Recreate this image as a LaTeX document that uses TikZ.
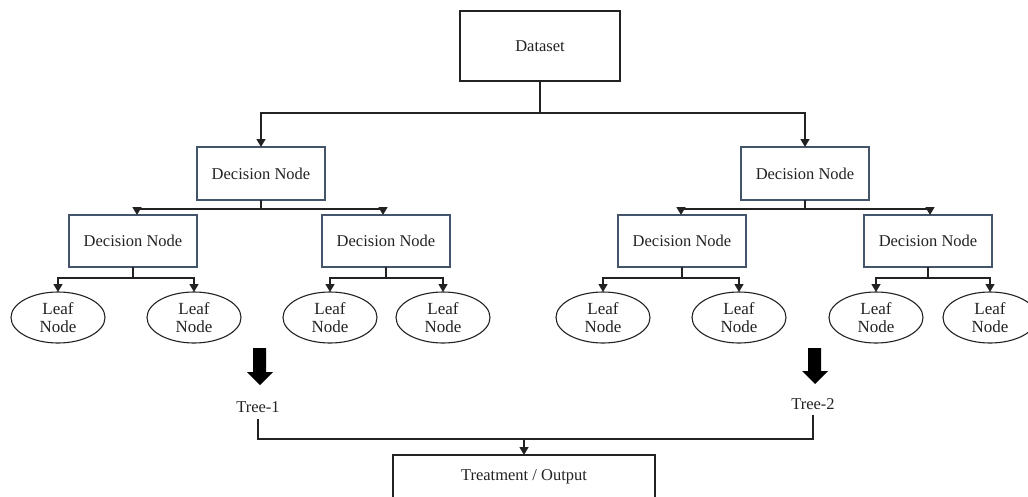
\documentclass[tikz,border=0pt]{standalone}
\usepackage{fontspec}
\setmainfont{Liberation Serif}
\usetikzlibrary{arrows.meta,shapes.geometric}
\definecolor{slate}{HTML}{44546A}
\definecolor{ink}{HTML}{222222}
\begin{document}
\begin{tikzpicture}[x=1pt,y=-1pt,
  font=\fontsize{16.5}{18}\selectfont,
  every node/.style={inner sep=0pt, outer sep=0pt, text=ink},
  plainbox/.style={draw=ink, line width=1.2pt, rectangle},
  decbox/.style={draw=slate, line width=1.2pt, rectangle, minimum width=128, minimum height=53},
  leafnode/.style={draw=ink, line width=1.1pt, ellipse, minimum width=94, minimum height=51, align=center, font=\fontsize{17}{18.5}\selectfont},
  link/.style={draw=ink, line width=1.4pt},
  arr/.style={link, -{Triangle[length=8pt,width=9pt]}},
  bigarrow/.style={fill=black}
]
\useasboundingbox (0,0) rectangle (1028,496);
\clip (0,0) rectangle (1028,496);

% root
\node[plainbox, minimum width=160, minimum height=70] (ds) at (540,46) {Dataset};

% first level decision nodes
\node[decbox] (L1) at (261,173.5) {Decision Node};
\node[decbox] (R1) at (805,173.5) {Decision Node};

% second level decision nodes
\node[decbox, minimum height=52] (L2a) at (133,241) {Decision Node};
\node[decbox, minimum height=52] (L2b) at (386,241) {Decision Node};
\node[decbox, minimum height=52] (R2a) at (682,241) {Decision Node};
\node[decbox, minimum height=52] (R2b) at (928,241) {Decision Node};

% leaves
\node[leafnode] (la1) at (58,317.5)  {Leaf\\Node};
\node[leafnode] (la2) at (194,317.5) {Leaf\\Node};
\node[leafnode] (lb1) at (330,317.5) {Leaf\\Node};
\node[leafnode] (lb2) at (443,317.5) {Leaf\\Node};
\node[leafnode] (ra1) at (603,317.5) {Leaf\\Node};
\node[leafnode] (ra2) at (739,317.5) {Leaf\\Node};
\node[leafnode] (rb1) at (876,317.5) {Leaf\\Node};
\node[leafnode] (rb2) at (990,317.5) {Leaf\\Node};

% tree labels and the combined output
\node (t1) at (258,407) {Tree-1};
\node (t2) at (813,404) {Tree-2};
\node[plainbox, minimum width=262, minimum height=62] (out) at (524,486) {};
\node at (524,477) {Treatment / Output};

% root to first level
\coordinate (j0) at (540,113);
\draw[link] (ds.south) -- (j0);
\draw[arr] (j0) -| (L1.north);
\draw[arr] (j0) -| (R1.north);

% first level to second level
\draw[arr] (L1.south) -- ++(0,9) -| ([xshift=4pt]L2a.north);
\draw[arr] (L1.south) -- ++(0,9) -| ([xshift=-3pt]L2b.north);
\draw[arr] (R1.south) -- ++(0,9) -| ([xshift=-1pt]R2a.north);
\draw[arr] (R1.south) -- ++(0,9) -| ([xshift=2pt]R2b.north);

% second level to leaves
\foreach \p/\a/\b in {L2a/la1/la2, L2b/lb1/lb2, R2a/ra1/ra2, R2b/rb1/rb2}{
  \draw[arr] (\p.south) -- ++(0,11) -| (\a.north);
  \draw[arr] (\p.south) -- ++(0,11) -| (\b.north);
}

% block arrows above the tree labels
\fill[bigarrow] (253,348) -- (266,348) -- (266,372) -- (273,372) -- (260,385) -- (247,372) -- (253,372) -- cycle;
\fill[bigarrow] (808,348) -- (821,348) -- (821,371) -- (828,371) -- (815,384) -- (802,371) -- (808,371) -- cycle;

% trees merged into the output
\coordinate (jb) at (524,439);
\draw[link] ([yshift=-6pt]t1.south) |- (jb) -| ([yshift=-5pt]t2.south);
\draw[arr] (jb) -- (out.north);
\end{tikzpicture}
\end{document}
